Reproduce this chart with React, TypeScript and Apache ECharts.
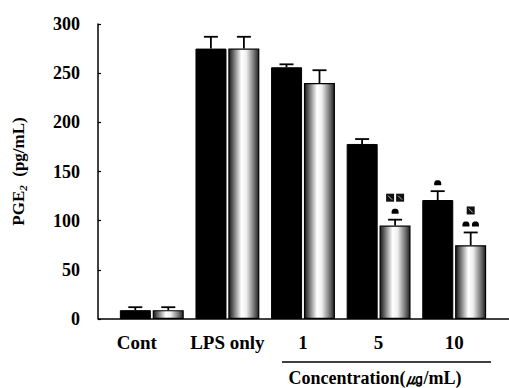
import React, { useEffect, useRef } from "react";
import * as echarts from "echarts";

const categories = ["Cont", "LPS only", "1", "5", "10"];
const meanBlack = [9, 275, 256, 178, 121];
const errBlack = [3, 12, 3, 5, 9];
const meanGray = [9, 275, 240, 95, 75];
const errGray = [3, 12, 13, 6, 13];
const domeBlack = [0, 0, 0, 0, 1];
const domeGray = [0, 0, 0, 1, 2];
const squareBlack = [0, 0, 0, 0, 0];
const squareGray = [0, 0, 0, 2, 1];
const yTicks = [0, 50, 100, 150, 200, 250, 300];

const FONT = "'Liberation Serif', 'Times New Roman', serif";

export default function App() {
  const ref = useRef<HTMLDivElement>(null);
  useEffect(() => {
    if (!ref.current) return;
    const chart = echarts.init(ref.current, undefined, { renderer: "svg" });
    const BAR_W = 31;
    const OFF = 16.5;

    const errData = categories.map((_, i) => [
      i,
      meanBlack[i],
      errBlack[i],
      meanGray[i],
      errGray[i],
      domeBlack[i],
      domeGray[i],
      squareBlack[i],
      squareGray[i],
    ]);

    const domePath = "M-3.5,2 L-3.5,0 C-3.5,-2.5 -1.5,-3 0,-3 C1.5,-3 3.5,-2.5 3.5,0 L3.5,2 Z";

    const option: any = {
      animation: false,
      grid: { left: 114, right: 17, top: 24, bottom: 69, containLabel: false },
      xAxis: {
        type: "category",
        data: categories,
        axisLine: { show: false },
        axisTick: { show: false },
        axisLabel: {
          interval: 0,
          margin: 14,
          color: "#000",
          fontFamily: FONT,
          fontWeight: "bold",
          fontSize: 19,
          formatter: (v: string) => (v === "Cont" ? "{l|" + v + "}" : v),
          rich: {
            l: {
              fontFamily: FONT,
              fontWeight: "bold",
              fontSize: 19,
              color: "#000",
              padding: [0, 30, 0, 0],
            },
          },
        },
      },
      yAxis: {
        type: "value",
        min: yTicks[0],
        max: yTicks[yTicks.length - 1],
        interval: 50,
        offset: 16,
        axisLine: { show: true, lineStyle: { color: "#000", width: 1.5 } },
        axisTick: { show: true, inside: true, length: 3, lineStyle: { color: "#000", width: 1.2 } },
        splitLine: { show: false },
        axisLabel: {
          margin: 18,
          color: "#000",
          fontFamily: FONT,
          fontWeight: "bold",
          fontSize: 18,
        },
        name: "{a|PGE}{s|2}{a|  (pg/mL)}",
        nameLocation: "middle",
        nameRotate: 90,
        nameGap: 70,
        nameTextStyle: {
          rich: {
            a: { fontFamily: FONT, fontWeight: "bold", fontSize: 17, color: "#000", lineHeight: 19 },
            s: {
              fontFamily: FONT,
              fontWeight: "bold",
              fontStyle: "italic",
              fontSize: 11,
              color: "#000",
              lineHeight: 19,
              verticalAlign: "bottom",
            },
          },
        },
      },
      series: [
        {
          type: "bar",
          data: meanBlack,
          barWidth: BAR_W,
          barGap: "6%",
          itemStyle: { color: "#000", borderColor: "#000", borderWidth: 1 },
        },
        {
          type: "bar",
          data: meanGray,
          barWidth: BAR_W,
          itemStyle: {
            color: new echarts.graphic.LinearGradient(0, 0, 1, 0, [
              { offset: 0, color: "#1a1a1a" },
              { offset: 0.15, color: "#6a6a6a" },
              { offset: 0.42, color: "#ffffff" },
              { offset: 0.58, color: "#f0f0f0" },
              { offset: 0.85, color: "#707070" },
              { offset: 1, color: "#222222" },
            ]),
            borderColor: "#000",
            borderWidth: 1.2,
          },
        },
        {
          type: "custom",
          z: 5,
          data: errData,
          encode: { x: 0, y: 1 },
          renderItem: (params: any, api: any) => {
            const i = api.value(0);
            const children: any[] = [];
            const sides = [
              { mean: api.value(1), err: api.value(2), domes: api.value(5), squares: api.value(7), off: -OFF },
              { mean: api.value(3), err: api.value(4), domes: api.value(6), squares: api.value(8), off: OFF },
            ];
            sides.forEach((s) => {
              const top = api.coord([i, s.mean]);
              const cap = api.coord([i, s.mean + s.err]);
              const x = top[0] + s.off;
              children.push({
                type: "line",
                shape: { x1: x, y1: top[1], x2: x, y2: cap[1] },
                style: { stroke: "#000", lineWidth: 1.8 },
              });
              children.push({
                type: "line",
                shape: { x1: x - 7, y1: cap[1], x2: x + 7, y2: cap[1] },
                style: { stroke: "#000", lineWidth: 1.8 },
              });
              let yMark = cap[1] - 8;
              if (s.domes > 0) {
                for (let k = 0; k < s.domes; k++) {
                  const cx = x + (k - (s.domes - 1) / 2) * 9.5;
                  children.push({
                    type: "path",
                    x: cx,
                    y: yMark,
                    shape: { pathData: domePath, x: -3.5, y: -3, width: 7, height: 5 },
                    style: { fill: "#000" },
                  });
                }
                yMark -= 14;
              }
              for (let k = 0; k < s.squares; k++) {
                const cx = x + (k - (s.squares - 1) / 2) * 10;
                children.push({
                  type: "rect",
                  shape: { x: cx - 4, y: yMark - 4, width: 8, height: 8 },
                  style: { fill: "#111" },
                });
                children.push({
                  type: "line",
                  shape: { x1: cx - 2, y1: yMark - 2, x2: cx + 2, y2: yMark + 2 },
                  style: { stroke: "#bbb", lineWidth: 1 },
                });
              }
            });
            return { type: "group", children };
          },
        },
      ],
    };
    chart.setOption(option);

    const y0 = chart.convertToPixel({ yAxisIndex: 0 }, 0) as number;
    chart.setOption({
      graphic: [
        {
          type: "line",
          shape: { x1: 98, y1: y0, x2: 509, y2: y0 },
          style: { stroke: "#000", lineWidth: 1.5 },
          z: 10,
        },
        {
          type: "line",
          shape: { x1: 282, y1: 362, x2: 491, y2: 362 },
          style: { stroke: "#000", lineWidth: 1.5 },
        },
        {
          type: "text",
          x: 375,
          y: 378,
          style: {
            text: "Concentration(㎍/mL)",
            fontFamily: FONT,
            fontWeight: "bold",
            fontSize: 18,
            fill: "#000",
            align: "center",
            verticalAlign: "middle",
          },
        },
      ],
    });

    return () => chart.dispose();
  }, []);
  return (
    <div
      ref={ref}
      style={{ position: "absolute", left: 0, top: 0, width: 509, height: 388 }}
    />
  );
}
